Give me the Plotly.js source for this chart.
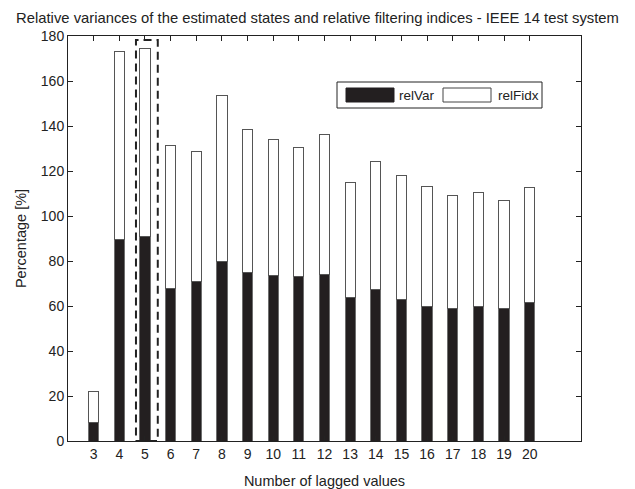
<!DOCTYPE html>
<html>
<head>
<meta charset="utf-8">
<script src="https://cdn.plot.ly/plotly-3.0.1.min.js"></script>
<style>html,body{margin:0;padding:0;background:#fff;}#chart{width:635px;height:489px;}</style>
</head>
<body>
<div id="chart"></div>
<script>
// Data
const lags = [3,4,5,6,7,8,9,10,11,12,13,14,15,16,17,18,19,20];
const relVar = [8.4,89.6,91.1,67.8,71.1,80.0,75.1,73.6,73.0,74.2,63.7,67.4,63.1,60.0,59.0,60.0,59.0,61.6];
const totals = [22.0,173.0,174.5,131.4,128.7,153.5,138.4,134.1,130.5,136.1,114.7,124.1,117.9,113.2,108.9,110.4,106.7,112.6];
const relFidx = totals.map((t,i) => +(t - relVar[i]).toFixed(1));
const seriesNames = ['relVar','relFidx'];
const yTicks = [0,20,40,60,80,100,120,140,160,180];
const highlightLag = 5;

const font = 'Liberation Sans, Arial, sans-serif';

const traces = [
  {type:'bar', x: lags, y: relVar, name: seriesNames[0], width: 0.4,
   marker:{color:'#231f20', line:{color:'#6e6e6e', width:1}}, showlegend:false},
  {type:'bar', x: lags, y: relFidx, name: seriesNames[1], width: 0.4,
   marker:{color:'#ffffff', line:{color:'#555555', width:1}}, showlegend:false}
];

const layout = {
  width: 635, height: 489,
  margin: {l:68, r:54, t:36, b:48},
  paper_bgcolor:'#ffffff', plot_bgcolor:'#ffffff',
  barmode:'stack',
  font:{family:font, size:14, color:'#222'},
  title:{text:'Relative variances of the estimated states and relative filtering indices - IEEE 14 test system',
         font:{family:font, size:14.8, color:'#222'}, x:0.5, xanchor:'center', y:0.964, yanchor:'middle', yref:'container'},
  xaxis:{range:[2,22], tickvals: lags, ticktext: lags.map(String), ticks:'inside', ticklen:5, tickcolor:'#222',
         showline:true, linecolor:'#222', linewidth:1, mirror:'ticks', showgrid:false, zeroline:false,
         tickfont:{family:font, size:14, color:'#222'},
         title:{text:'Number of lagged values', font:{family:font, size:14.5, color:'#222'}, standoff:15}},
  yaxis:{range:[0,180], tickvals: yTicks, ticks:'inside', ticklen:5, tickcolor:'#222',
         showline:true, linecolor:'#222', linewidth:1, mirror:'ticks', showgrid:false, zeroline:false,
         tickfont:{family:font, size:14, color:'#222'},
         title:{text:'Percentage [%]', font:{family:font, size:14.5, color:'#222'}, standoff:10}},
  shapes:[
    // dashed highlight around the selected lag
    {type:'rect', xref:'x', yref:'y', x0: highlightLag-0.35, x1: highlightLag+0.5, y0:0, y1:178.2,
     line:{color:'#222', width:2, dash:'8px,5px'}, fillcolor:'rgba(0,0,0,0)'},
    // legend box
    {type:'rect', xref:'paper', yref:'paper', x0:(337-68)/513, x1:(542-68)/513, y0:(441-108)/405, y1:(441-82)/405,
     line:{color:'#222', width:1}, fillcolor:'#ffffff'},
    {type:'rect', xref:'paper', yref:'paper', x0:(346-68)/513, x1:(394-68)/513, y0:(441-102)/405, y1:(441-88)/405,
     line:{color:'#231f20', width:1}, fillcolor:'#231f20'},
    {type:'rect', xref:'paper', yref:'paper', x0:(443-68)/513, x1:(491-68)/513, y0:(441-102)/405, y1:(441-88)/405,
     line:{color:'#444', width:1}, fillcolor:'#ffffff'}
  ],
  annotations:[
    {xref:'paper', yref:'paper', x:(397-68)/513, y:(441-95)/405, xanchor:'left', yanchor:'middle',
     text: seriesNames[0], showarrow:false, font:{family:font, size:13.5, color:'#222'}},
    {xref:'paper', yref:'paper', x:(496-68)/513, y:(441-95)/405, xanchor:'left', yanchor:'middle',
     text: seriesNames[1], showarrow:false, font:{family:font, size:13.5, color:'#222'}}
  ]
};

Plotly.newPlot('chart', traces, layout, {displayModeBar:false, staticPlot:true});
</script>
</body>
</html>
